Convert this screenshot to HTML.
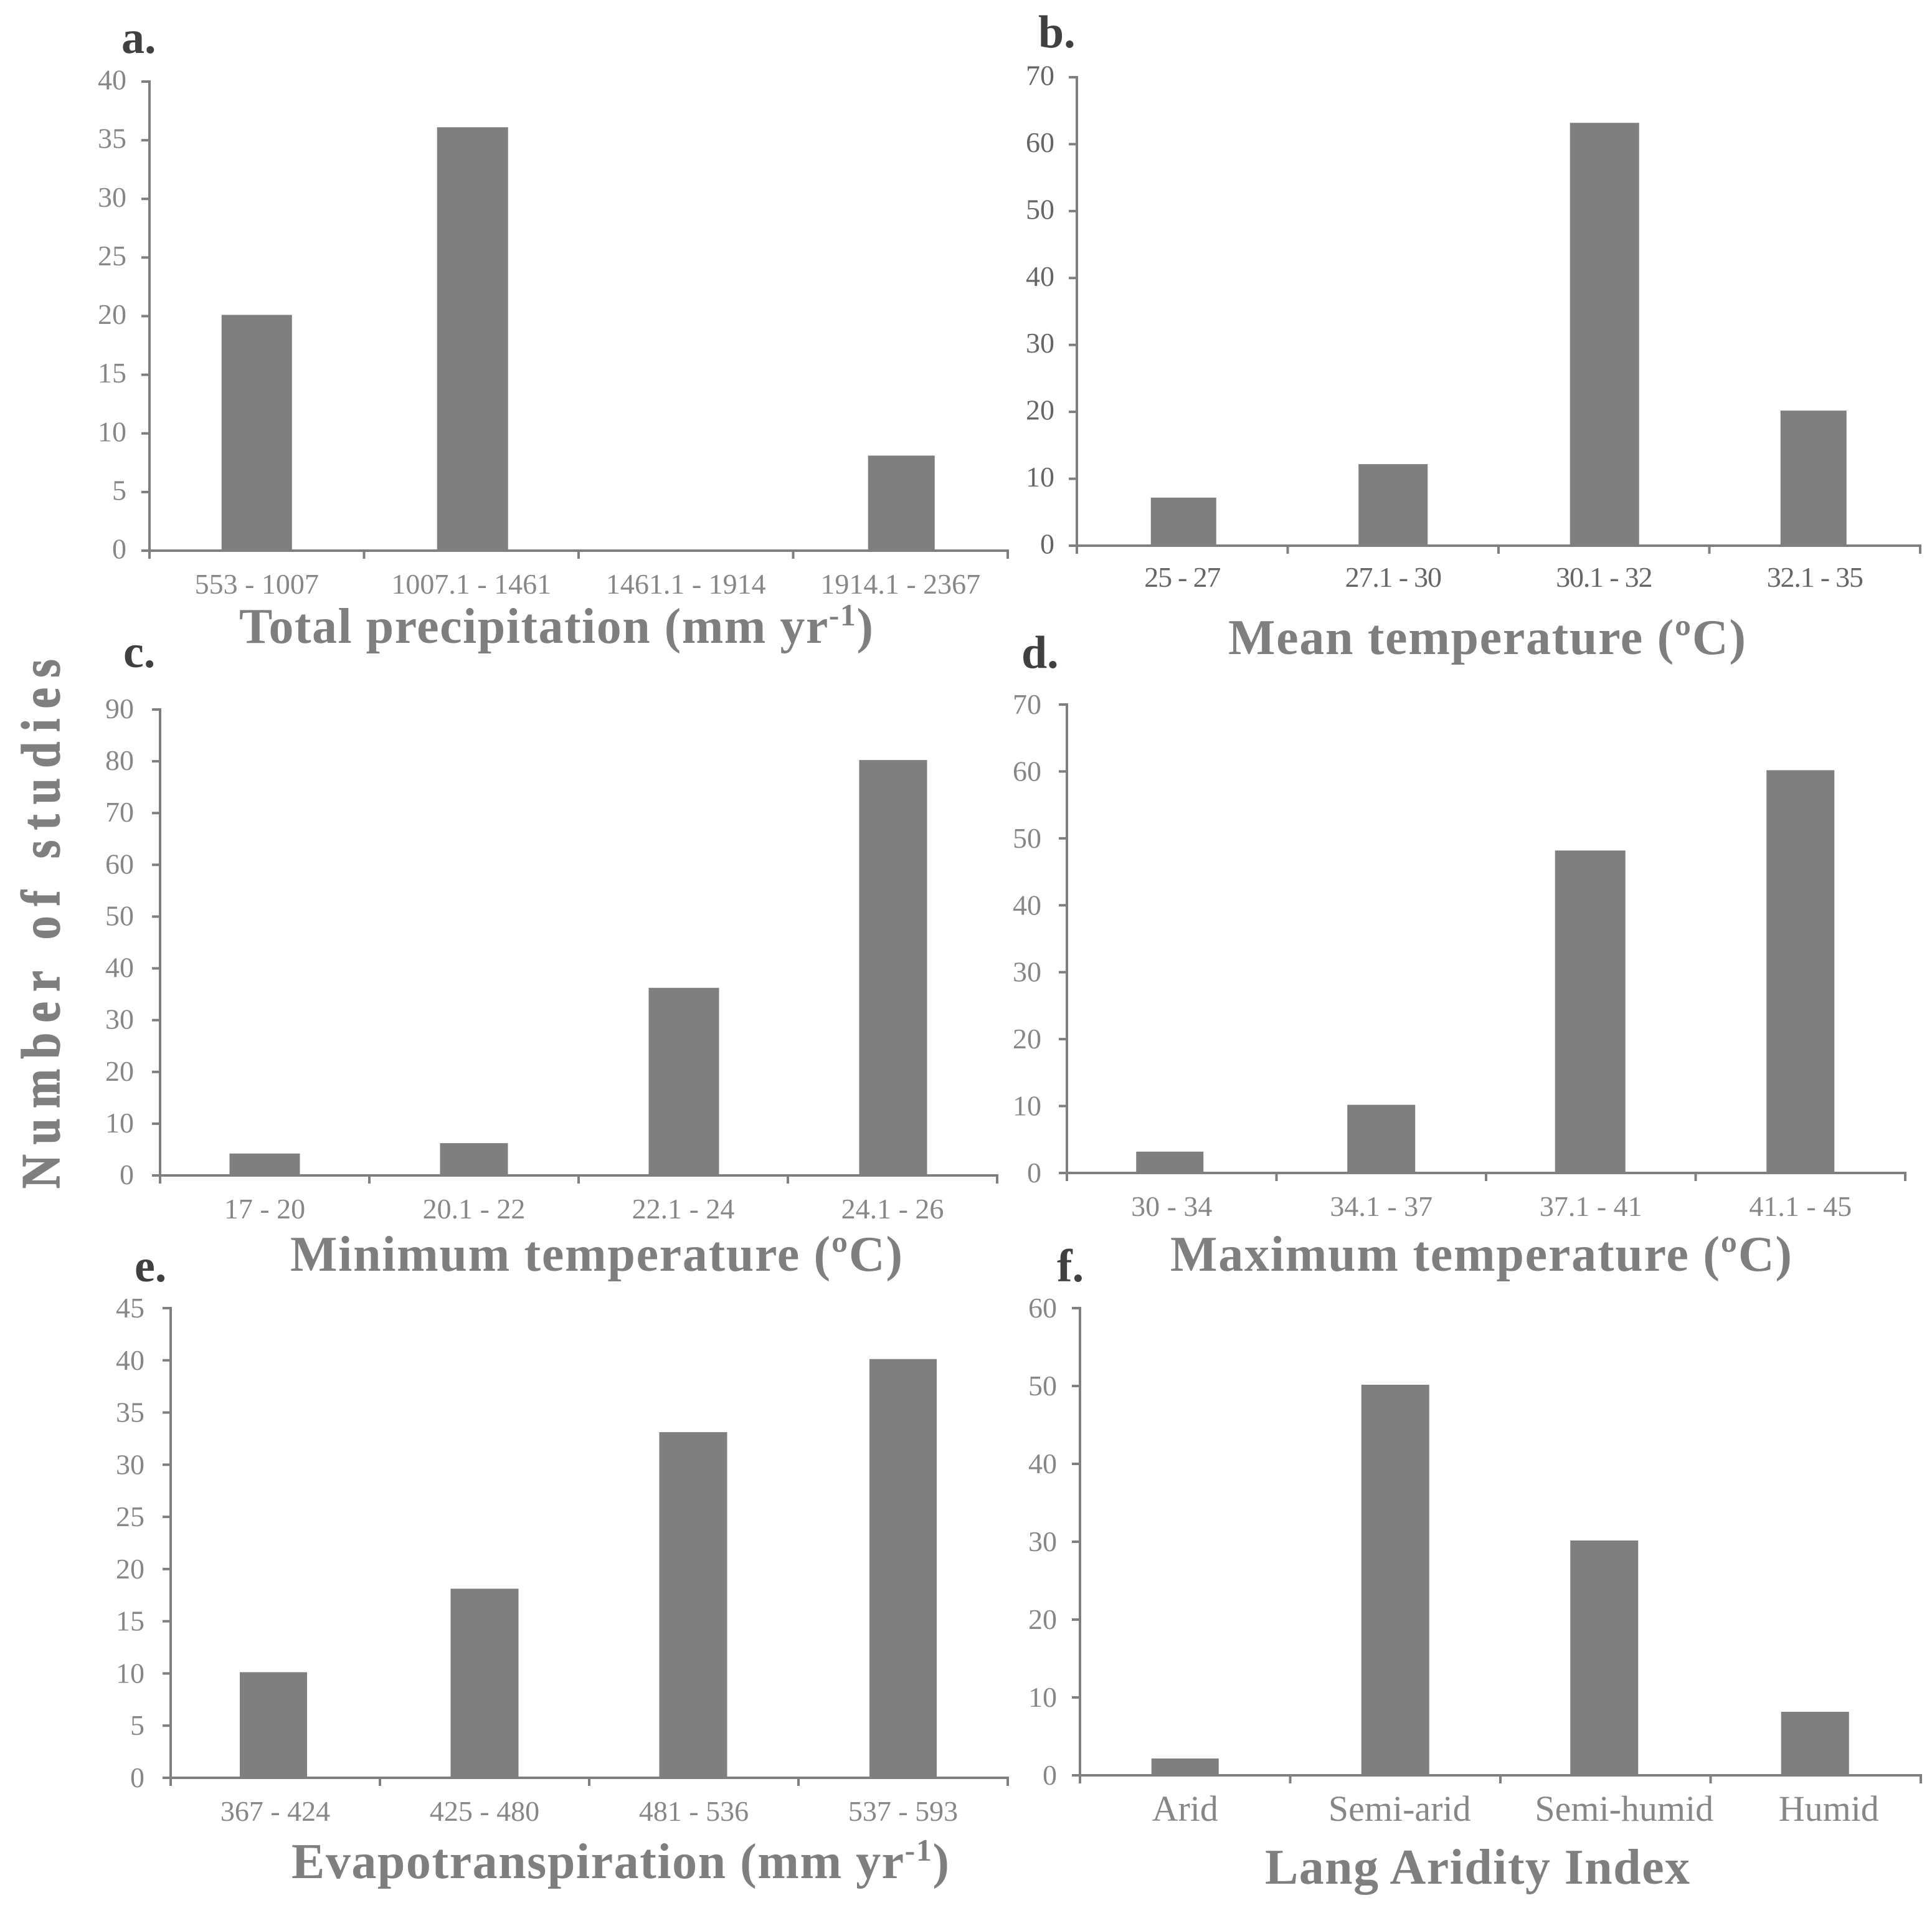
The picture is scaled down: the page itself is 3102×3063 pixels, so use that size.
<!DOCTYPE html>
<html lang="en">
<head>
<meta charset="utf-8">
<title>Number of studies by climate variable</title>
<style>
html,body{margin:0;padding:0;background:#fff;}
svg{display:block;font-family:"Liberation Serif",serif;}
.title{font-weight:bold;font-size:80px;fill:#7f7f7f;}
.letter{font-weight:bold;font-size:74px;fill:#404040;}
.tick{font-size:46px;fill:#878787;}
</style>
</head>
<body>
<svg id="figure" xmlns="http://www.w3.org/2000/svg" width="3102" height="3063" viewBox="0 0 3102 3063">
  <rect width="3102" height="3063" fill="#ffffff"/>
  <text transform="translate(95,1908) rotate(-90) scale(0.86,1)" font-size="88" font-weight="bold" fill="#7f7f7f" stroke="#7f7f7f" stroke-width="1.5" textLength="988">Number of studies</text>

  <text class="letter" x="195" y="85">a.</text>
  <text class="letter" x="1667" y="76">b.</text>
  <text class="letter" x="198" y="1071">c.</text>
  <text class="letter" x="1640" y="1072">d.</text>
  <text class="letter" x="216" y="2057">e.</text>
  <text class="letter" x="1697" y="2057">f.</text>

  <text class="title" x="384" y="1032" textLength="1018">Total precipitation (mm yr<tspan font-size="50" dy="-28">-1</tspan><tspan dy="28">)</tspan></text>
  <text class="title" x="1972" y="1050" textLength="831">Mean temperature (ºC)</text>
  <text class="title" x="466" y="2040" textLength="983">Minimum temperature (ºC)</text>
  <text class="title" x="1879" y="2040" textLength="998">Maximum temperature (ºC)</text>
  <text class="title" x="468" y="3015" textLength="1056">Evapotranspiration (mm yr<tspan font-size="50" dy="-28">-1</tspan><tspan dy="28">)</tspan></text>
  <text class="title" x="2031" y="3024" textLength="682">Lang Aridity Index</text>
</svg>
<script>
// Chart data: categories, series values and y-axis tick labels
var categoriesA = ['553 - 1007', '1007.1 - 1461', '1461.1 - 1914', '1914.1 - 2367'];
var valuesA = [20, 36, 0, 8];
var yTicksA = [0, 5, 10, 15, 20, 25, 30, 35, 40];

var categoriesB = ['25 - 27', '27.1 - 30', '30.1 - 32', '32.1 - 35'];
var valuesB = [7, 12, 63, 20];
var yTicksB = [0, 10, 20, 30, 40, 50, 60, 70];

var categoriesC = ['17 - 20', '20.1 - 22', '22.1 - 24', '24.1 - 26'];
var valuesC = [4, 6, 36, 80];
var yTicksC = [0, 10, 20, 30, 40, 50, 60, 70, 80, 90];

var categoriesD = ['30 - 34', '34.1 - 37', '37.1 - 41', '41.1 - 45'];
var valuesD = [3, 10, 48, 60];
var yTicksD = [0, 10, 20, 30, 40, 50, 60, 70];

var categoriesE = ['367 - 424', '425 - 480', '481 - 536', '537 - 593'];
var valuesE = [10, 18, 33, 40];
var yTicksE = [0, 5, 10, 15, 20, 25, 30, 35, 40, 45];

var categoriesF = ['Arid', 'Semi-arid', 'Semi-humid', 'Humid'];
var valuesF = [2, 50, 30, 8];
var yTicksF = [0, 10, 20, 30, 40, 50, 60];

var panels = [
  {id:'a', cats:categoriesA, vals:valuesA, ticks:yTicksA, x0:240, x1:1618, y0:884, y1:131, barW:[113,114,113,107], barDx:[0,2,0,1.5], labelY:953, yGap:37, yBase:12.5},
  {id:'b', cats:categoriesB, vals:valuesB, ticks:yTicksB, x0:1729, x1:3083, y0:876, y1:124, barW:[105,111,111,106], barDx:[2,0,1,-2], labelY:942, yGap:36, yBase:12.5, color:'#666666', spacing:-1.2},
  {id:'c', cats:categoriesC, vals:valuesC, ticks:yTicksC, x0:257, x1:1601, y0:1887, y1:1139, barW:[113,109,113,109], barDx:[0,0,1,1], labelY:1956, yGap:42, yBase:14},
  {id:'d', cats:categoriesD, vals:valuesD, ticks:yTicksD, x0:1713, x1:3059, y0:1883, y1:1131, barW:[108,109,113,109], barDx:[-3,0,-1,0], labelY:1952, yGap:41, yBase:15},
  {id:'e', cats:categoriesE, vals:valuesE, ticks:yTicksE, x0:274, x1:1618, y0:2854, y1:2100, barW:[108,109,109,108], barDx:[-3,0,-1,0], labelY:2923, yGap:42, yBase:15},
  {id:'f', cats:categoriesF, vals:valuesF, ticks:yTicksF, x0:1734, x1:3084, y0:2850, y1:2100, barW:[108,109,109,109], barDx:[0,0,-2,-1], labelY:2923, yGap:37, yBase:15, labelSize:58, labelShift:[0, 7, 30, 21]}
];

var NS = 'http://www.w3.org/2000/svg';
var AXIS = '#7f7f7f';
var BAR_TOP_LIFT = 2;
var svg = document.getElementById('figure');

function makeLine(parent, x1, y1, x2, y2) {
  var el = document.createElementNS(NS, 'line');
  el.setAttribute('x1', x1);
  el.setAttribute('y1', y1);
  el.setAttribute('x2', x2);
  el.setAttribute('y2', y2);
  el.setAttribute('stroke', AXIS);
  el.setAttribute('stroke-width', 4);
  parent.appendChild(el);
  return el;
}

function renderPanel(p) {
  var maxTick = p.ticks[p.ticks.length - 1];
  function yScale(v) { return p.y0 - (p.y0 - p.y1) * v / maxTick; }
  var band = (p.x1 - p.x0) / p.cats.length;
  function xEdge(i) { return p.x0 + band * i; }
  function xCenter(i) { return p.x0 + band * (i + 0.5); }

  var g = document.createElementNS(NS, 'g');
  
  
  svg.appendChild(g);

  // bars
  p.vals.forEach(function (v, i) {
    var bar = document.createElementNS(NS, 'rect');
    
    
    bar.setAttribute('x', xCenter(i) + p.barDx[i] - p.barW[i] / 2);
    bar.setAttribute('y', yScale(v) - BAR_TOP_LIFT);
    bar.setAttribute('width', p.barW[i]);
    bar.setAttribute('height', p.y0 - yScale(v) + BAR_TOP_LIFT);
    bar.setAttribute('fill', AXIS);
    g.appendChild(bar);
  });

  // y axis
  var yAxis = makeLine(g, p.x0, p.y1 - 2, p.x0, p.y0 + 13);
  
  

  p.ticks.forEach(function (t) {
    var mark = makeLine(g, p.x0 - 13, yScale(t), p.x0, yScale(t));
    
    
    var label = document.createElementNS(NS, 'text');
    
    
    label.setAttribute('class', 'tick');
    label.setAttribute('x', p.x0 - p.yGap);
    label.setAttribute('y', yScale(t) + p.yBase);
    label.setAttribute('text-anchor', 'end');
    if (p.color) { label.style.fill = p.color; }
    label.textContent = t;
    g.appendChild(label);
  });

  // x axis
  var xAxis = makeLine(g, p.x0 - 13, p.y0, p.x1 + 2, p.y0);
  
  

  for (var e = 1; e <= p.cats.length; e++) {
    var xt = makeLine(g, xEdge(e), p.y0, xEdge(e), p.y0 + 13);
    
    
  }

  p.cats.forEach(function (c, i) {
    var label = document.createElementNS(NS, 'text');
    
    
    label.setAttribute('class', 'tick');
    label.setAttribute('x', xCenter(i) + (p.labelShift ? p.labelShift[i] : 0));
    label.setAttribute('y', p.labelY);
    label.setAttribute('text-anchor', 'middle');
    if (p.color) { label.style.fill = p.color; }
    if (p.spacing) { label.style.letterSpacing = p.spacing + 'px'; }
    if (p.labelSize) { label.style.fontSize = p.labelSize + 'px'; }
    label.textContent = c;
    g.appendChild(label);
  });
}

panels.forEach(renderPanel);
</script>
</body>
</html>
